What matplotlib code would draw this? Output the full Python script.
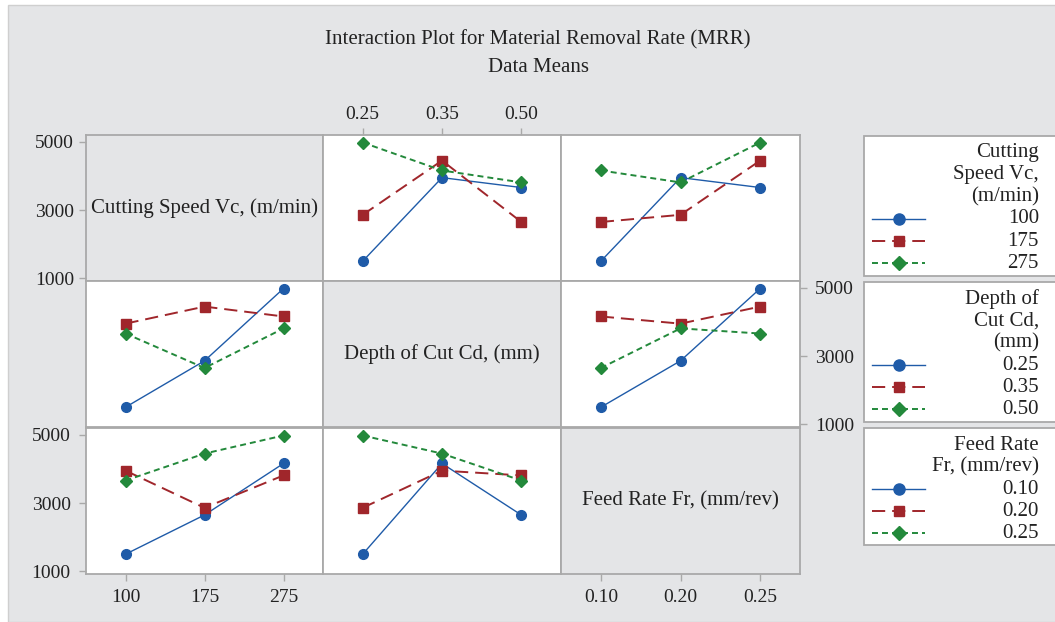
import matplotlib.pyplot as plt
import pandas as pd
from matplotlib.patches import Rectangle
from matplotlib.lines import Line2D

# L9 runs
cutting_speed = [100, 100, 100, 175, 175, 175, 275, 275, 275]
depth_of_cut = [0.25, 0.35, 0.50, 0.25, 0.35, 0.50, 0.25, 0.35, 0.50]
feed_rate = [0.10, 0.20, 0.25, 0.20, 0.25, 0.10, 0.25, 0.10, 0.20]
mrr = [1500, 3950, 3660, 2860, 4450, 2650, 4980, 4160, 3810]

factor_cols = ["Vc", "Cd", "Fr"]
factor_names = ["Cutting Speed Vc, (m/min)", "Depth of Cut Cd, (mm)", "Feed Rate Fr, (mm/rev)"]
legend_titles = [["Cutting", "Speed Vc,", "(m/min)"], ["Depth of", "Cut Cd,", "(mm)"], ["Feed Rate", "Fr, (mm/rev)"]]
levels = [[100, 175, 275], [0.25, 0.35, 0.50], [0.10, 0.20, 0.25]]
level_labels = [["100", "175", "275"], ["0.25", "0.35", "0.50"], ["0.10", "0.20", "0.25"]]
y_ticks = [1000, 3000, 5000]

colors = ["#1f5ba8", "#a0262b", "#23893b"]
markers = ["o", "s", "D"]
marker_sizes = [7, 6.5, 6.5]
dashes = [None, (9.5, 5), (4.3, 2.9)]
line_widths = [1.0, 1.4, 1.4]

df = pd.DataFrame({"Vc": cutting_speed, "Cd": depth_of_cut, "Fr": feed_rate, "MRR": mrr})

plt.rcParams["font.family"] = ["Liberation Serif", "DejaVu Serif"]
plt.rcParams["lines.scale_dashes"] = False

W, H = 1055, 622
fig = plt.figure(figsize=(W / 100, H / 100), dpi=100, facecolor="white")
bg = "#e4e5e7"
fig.patches.append(Rectangle((8 / W, 0), 1.2, 1 - 5 / H, transform=fig.transFigure,
                             facecolor=bg, edgecolor="#cfcfcf", lw=1.0, zorder=-10))

def fx(x):
    return x / W

def fy(y):
    return 1 - y / H

col_left = [86, 323, 561]
col_w = [237, 238, 239]
row_top = [135, 281, 428]
row_h = 146
spine_c = "#a9a9a9"
text_c = "#222222"

fig.text(fx(538), fy(40), "Interaction Plot for Material Removal Rate (MRR)",
         ha="center", va="center", fontsize=15, color=text_c)
fig.text(fx(538), fy(68), "Data Means", ha="center", va="center", fontsize=15, color=text_c)

for i in range(3):
    for j in range(3):
        ax = fig.add_axes([fx(col_left[j]), fy(row_top[i] + row_h), col_w[j] / W, row_h / H])
        ax.set_xlim(0.5, 3.5)
        ax.set_ylim(920, 5200)
        for s in ax.spines.values():
            s.set_color(spine_c)
            s.set_linewidth(1.3)
        ax.tick_params(colors=spine_c, labelcolor=text_c, labelsize=14, length=5, width=1.0)
        ax.set_xticks([1, 2, 3])
        ax.set_yticks(y_ticks)
        ax.tick_params(left=False, labelleft=False, bottom=False, labelbottom=False)

        if i == j:
            ax.set_facecolor(bg)
            ax.text(0.5, 0.5, factor_names[i], transform=ax.transAxes,
                    ha="center", va="center", fontsize=15, color=text_c)
        else:
            ax.set_facecolor("white")
            means = df.groupby([factor_cols[i], factor_cols[j]])["MRR"].mean()
            for k, lvl in enumerate(levels[i]):
                ys = [means[(lvl, lv_j)] for lv_j in levels[j]]
                line, = ax.plot([1, 2, 3], ys, color=colors[k], marker=markers[k],
                                markersize=marker_sizes[k], lw=line_widths[k], zorder=3 + k)
                if dashes[k] is not None:
                    line.set_dashes(dashes[k])

        # y axis: alternating left/right like Minitab
        if i == 0 and j == 0:
            ax.tick_params(left=True, labelleft=True)
        if i == 2 and j == 0:
            ax.tick_params(left=True, labelleft=True)
        if i == 1 and j == 2:
            ax.tick_params(right=True, labelright=True, pad=6)
            ax.yaxis.set_ticks_position("right")
        # x axis: alternating bottom/top
        if i == 2 and j in (0, 2):
            ax.set_xticklabels(level_labels[j])
            ax.tick_params(bottom=True, labelbottom=True, pad=6)
        if i == 0 and j == 1:
            ax.set_xticklabels(level_labels[j])
            ax.tick_params(top=True, labeltop=True, pad=4)

# legends drawn as boxes at the right
box_tops = [136, 282, 428]
box_bottoms = [276, 422, 545]
for i in range(3):
    fig.patches.append(Rectangle((fx(864), fy(box_bottoms[i])), 0.2, (box_bottoms[i] - box_tops[i]) / H,
                                 transform=fig.transFigure, facecolor="white",
                                 edgecolor=spine_c, lw=1.3, zorder=1))
    y = box_tops[i] + 17
    for t in legend_titles[i]:
        fig.text(fx(1039), fy(y), t, ha="right", va="center", fontsize=15, color=text_c, zorder=3)
        y += 22
    for k in range(3):
        ln = Line2D([fx(872), fx(925)], [fy(y), fy(y)], transform=fig.transFigure,
                    color=colors[k], lw=line_widths[k], zorder=3)
        if dashes[k] is not None:
            ln.set_dashes(dashes[k])
        fig.add_artist(ln)
        fig.add_artist(Line2D([fx(899)], [fy(y)], transform=fig.transFigure, color=colors[k],
                              marker=markers[k], markersize=marker_sizes[k] + 1, lw=0, zorder=4))
        fig.text(fx(1039), fy(y), level_labels[i][k], ha="right", va="center",
                 fontsize=15, color=text_c, zorder=3)
        y += 22

fig.savefig("out.png", dpi=100, facecolor=fig.get_facecolor())
